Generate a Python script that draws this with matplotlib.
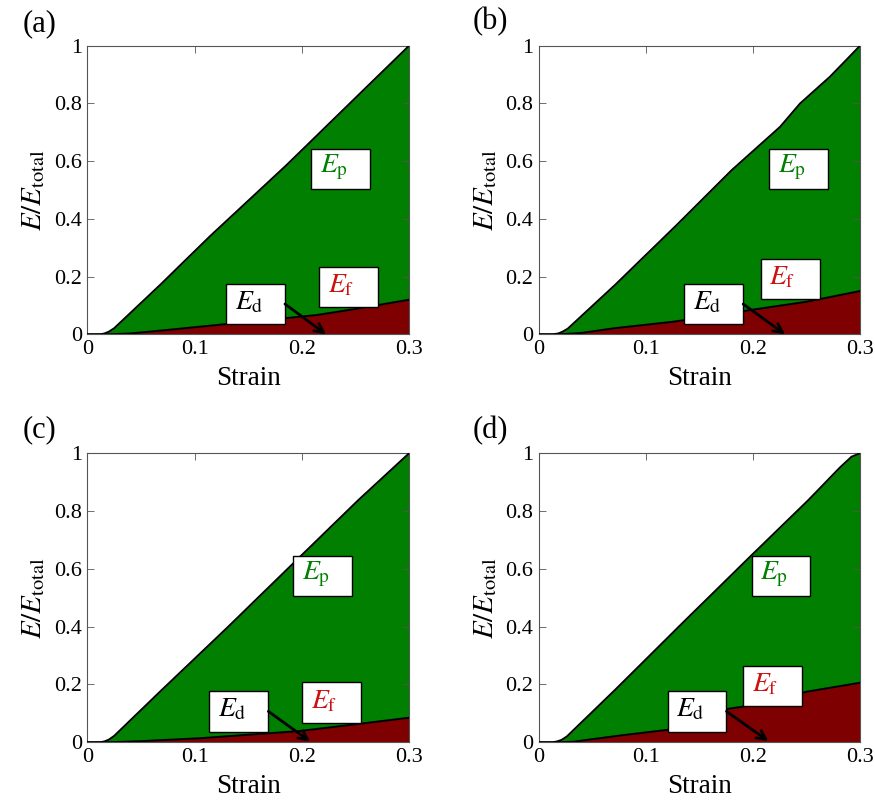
import matplotlib
matplotlib.use("Agg")
import matplotlib.pyplot as plt
from matplotlib.patches import Rectangle

plt.rcParams["font.family"] = ["Liberation Serif", "DejaVu Serif"]
plt.rcParams["mathtext.fontset"] = "stix"

# Cumulative energy fractions vs. strain for the four cases.
# "tot" is the upper boundary (E_p + E_f), "ef" the upper edge of E_f.
strain_tot_a = [0, 0.012, 0.016, 0.020, 0.025, 0.0678, 0.1144, 0.1859, 0.2527, 0.3]
tot_a = [0, 0, 0.003, 0.009, 0.021, 0.171, 0.340, 0.587, 0.829, 1.0]
strain_ef_a = [0, 0.02, 0.04, 0.074, 0.136, 0.214, 0.25, 0.3]
ef_a = [0, 0, 0.003, 0.015, 0.038, 0.067, 0.088, 0.12]

strain_tot_b = [0, 0.013, 0.018, 0.022, 0.027, 0.071, 0.1287, 0.1801, 0.2253,
                0.244, 0.272, 0.3]
tot_b = [0, 0, 0.003, 0.009, 0.02, 0.171, 0.379, 0.569, 0.719, 0.800, 0.893, 1.0]
strain_ef_b = [0, 0.02, 0.04, 0.07, 0.126, 0.197, 0.25, 0.3]
ef_b = [0, 0, 0.005, 0.021, 0.044, 0.084, 0.113, 0.15]

strain_tot_c = [0, 0.012, 0.016, 0.020, 0.025, 0.0694, 0.130, 0.1953, 0.2527, 0.3]
tot_c = [0, 0, 0.003, 0.009, 0.022, 0.181, 0.395, 0.631, 0.838, 1.0]
strain_ef_c = [0, 0.02, 0.05, 0.105, 0.198, 0.245, 0.3]
ef_c = [0, 0, 0.004, 0.014, 0.039, 0.06, 0.085]

strain_tot_d = [0, 0.013, 0.017, 0.021, 0.026, 0.071, 0.1339, 0.1972, 0.2517,
                0.281, 0.292, 0.3]
tot_d = [0, 0, 0.003, 0.008, 0.02, 0.181, 0.412, 0.642, 0.838, 0.950, 0.988, 1.0]
strain_ef_d = [0, 0.02, 0.032, 0.079, 0.12, 0.175, 0.203, 0.25, 0.3]
ef_d = [0, 0, 0.002, 0.025, 0.043, 0.115, 0.13, 0.175, 0.206]

panel_tags = ["(a)", "(b)", "(c)", "(d)"]
xticks = [0, 0.1, 0.2, 0.3]
xtick_labels = ["0", "0.1", "0.2", "0.3"]
yticks = [0, 0.2, 0.4, 0.6, 0.8, 1.0]
ytick_labels = ["0", "0.2", "0.4", "0.6", "0.8", "1"]

# label boxes: lower-left corner (strain, E/Etotal)
ep_box = [(0.2086, 0.503), (0.2152, 0.503), (0.1921, 0.506), (0.1987, 0.506)]
ef_box = [(0.2164, 0.094), (0.2072, 0.121), (0.2005, 0.068), (0.1910, 0.126)]
ed_box = [(0.1293, 0.035), (0.1358, 0.035), (0.1138, 0.037), (0.1202, 0.037)]
ed_arrow_tip = [(0.2226, 0.0), (0.2299, 0.0), (0.2077, 0.003), (0.2143, 0.004)]
BOX_W, BOX_H = 0.055, 0.139

GREEN = "#007f00"
DARKRED = "#7f0000"
LABEL_RED = "#cc1111"

panels = [
    (strain_tot_a, tot_a, strain_ef_a, ef_a),
    (strain_tot_b, tot_b, strain_ef_b, ef_b),
    (strain_tot_c, tot_c, strain_ef_c, ef_c),
    (strain_tot_d, tot_d, strain_ef_d, ef_d),
]

axes_rects = [
    (0.0998, 0.5826, 0.3677, 0.3603),
    (0.6160, 0.5826, 0.3669, 0.3603),
    (0.0998, 0.0733, 0.3677, 0.3608),
    (0.6160, 0.0733, 0.3669, 0.3608),
]
tag_pos = [(0.045, 0.970), (0.560, 0.9725), (0.045, 0.463), (0.560, 0.463)]


def label_box(ax, corner, text, color):
    x0, y0 = corner
    ax.add_patch(Rectangle((x0, y0), BOX_W, BOX_H, facecolor="white",
                           edgecolor="black", lw=1.0, zorder=5))
    ax.text(x0 + 0.008, y0 + BOX_H / 2 + 0.005, text, color=color, fontsize=20,
            ha="left", va="center", zorder=6)


fig = plt.figure(figsize=(8.75, 8.01), dpi=100)

for i, (sx, tot, sf, ef) in enumerate(panels):
    ax = fig.add_axes(axes_rects[i])
    ax.fill_between(sx, tot, 0, color=GREEN, lw=0, zorder=1)
    ax.fill_between(sf, ef, 0, color=DARKRED, lw=0, zorder=2)
    ax.plot(sx, tot, color="black", lw=1.4, zorder=3)
    ax.plot(sf, ef, color="black", lw=1.4, zorder=3)

    ax.set_xlim(0, 0.3)
    ax.set_ylim(0, 1)
    ax.set_xticks(xticks, xtick_labels)
    ax.set_yticks(yticks, ytick_labels)
    ax.tick_params(direction="in", top=True, right=True, length=5,
                   width=0.6, labelsize=16, color="#555555", pad=4)
    for s in ax.spines.values():
        s.set_color("#555555")
        s.set_linewidth(0.8)

    ax.set_xlabel("Strain", fontsize=19.5)
    ax.xaxis.set_label_coords(0.5, -0.11)
    ax.set_ylabel(r"$E/E_{\mathrm{total}}$", fontsize=21)
    ax.yaxis.set_label_coords(-0.125, 0.5)

    label_box(ax, ep_box[i], r"$E_{\mathrm{p}}$", GREEN)
    label_box(ax, ef_box[i], r"$E_{\mathrm{f}}$", LABEL_RED)
    label_box(ax, ed_box[i], r"$E_{\mathrm{d}}$", "black")

    bx, by = ed_box[i]
    ax.annotate("", xy=ed_arrow_tip[i], xytext=(bx + BOX_W, by + 0.07),
                arrowprops=dict(arrowstyle="->", lw=2, color="black",
                                mutation_scale=16, shrinkA=0, shrinkB=0),
                zorder=7)

    fig.text(*tag_pos[i], panel_tags[i], fontsize=22, ha="center", va="center")

fig.savefig("out.png", dpi=100)
